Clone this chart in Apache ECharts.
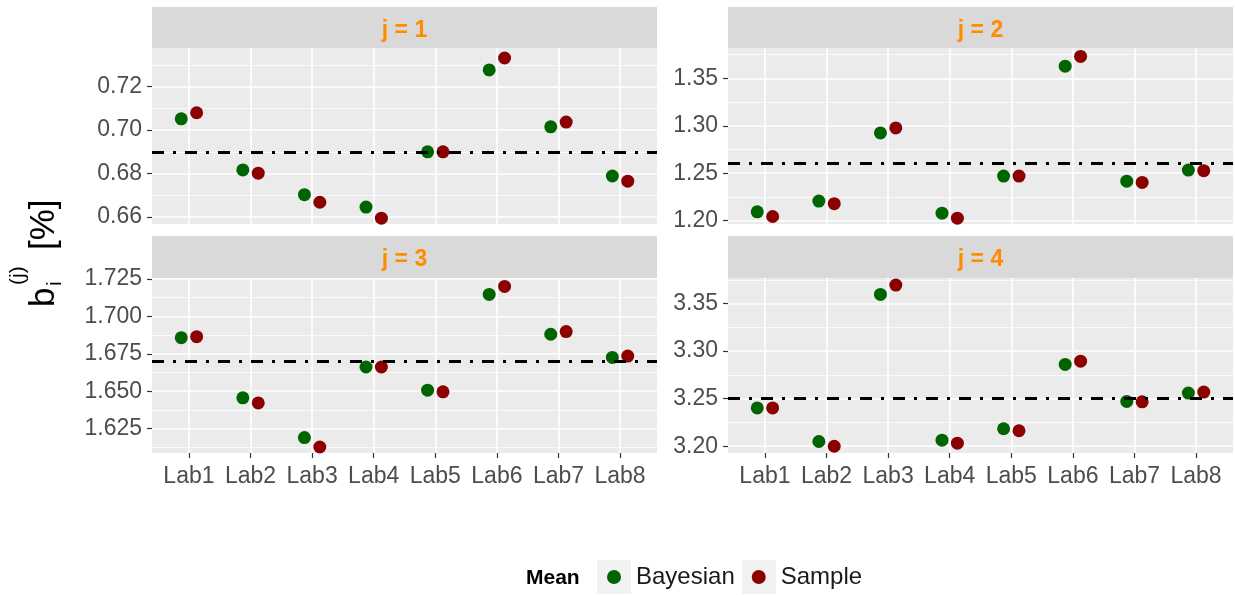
<!DOCTYPE html>
<html>
<head>
<meta charset="utf-8">
<script src="https://cdn.jsdelivr.net/npm/echarts@6/dist/echarts.min.js"></script>
<style>
  html, body { margin: 0; padding: 0; background: #ffffff; }
  #chart { width: 1235px; height: 595px; }
</style>
</head>
<body>
<div id="chart"></div>
<script>
// Laboratories on the shared x axis
const labs = ['Lab1', 'Lab2', 'Lab3', 'Lab4', 'Lab5', 'Lab6', 'Lab7', 'Lab8'];
const facetTitles = ['j = 1', 'j = 2', 'j = 3', 'j = 4'];
const seriesNames = ['Bayesian', 'Sample'];

// Per-lab means b_i^(j) [%], one pair of arrays per level j
const bayesJ1  = [0.7052, 0.6817, 0.6703, 0.6646, 0.6900, 0.7277, 0.7015, 0.6789];
const sampleJ1 = [0.7080, 0.6802, 0.6668, 0.6595, 0.6900, 0.7332, 0.7037, 0.6765];
const bayesJ2  = [1.2092, 1.2206, 1.2924, 1.2078, 1.2469, 1.3628, 1.2416, 1.2533];
const sampleJ2 = [1.2043, 1.2178, 1.2977, 1.2025, 1.2469, 1.3731, 1.2402, 1.2526];
const bayesJ3  = [1.6858, 1.6456, 1.6190, 1.6662, 1.6507, 1.7147, 1.6881, 1.6726];
const sampleJ3 = [1.6865, 1.6422, 1.6127, 1.6662, 1.6496, 1.7201, 1.6899, 1.6735];
const bayesJ4  = [3.2403, 3.2050, 3.3596, 3.2064, 3.2184, 3.2860, 3.2471, 3.2559];
const sampleJ4 = [3.2403, 3.2000, 3.3695, 3.2032, 3.2163, 3.2895, 3.2467, 3.2570];

// Overall reference level per panel (dash-dot line)
const overallMeans = [0.6905, 1.2558, 1.6691, 3.2534];

// Free y scales: limits, labelled breaks and minor breaks per panel
const yLimits = [[0.6568, 0.7378], [1.1964, 1.3820], [1.6087, 1.7257], [3.1929, 3.3769]];
const yBreaks = [
  [0.66, 0.68, 0.70, 0.72],
  [1.20, 1.25, 1.30, 1.35],
  [1.625, 1.650, 1.675, 1.700, 1.725],
  [3.20, 3.25, 3.30, 3.35]
];
const yMinorBreaks = [
  [0.67, 0.69, 0.71, 0.73],
  [1.225, 1.275, 1.325, 1.375],
  [1.6125, 1.6375, 1.6625, 1.6875, 1.7125],
  [3.225, 3.275, 3.325, 3.375]
];
const yDecimals = [2, 2, 3, 2];

const bayesData = [bayesJ1, bayesJ2, bayesJ3, bayesJ4];
const sampleData = [sampleJ1, sampleJ2, sampleJ3, sampleJ4];

// ---- styling / layout ----
const FONT = 'Liberation Sans, Arial, sans-serif';
const GREEN = '#006400';
const RED = '#8B0000';
const PANEL_BG = '#EBEBEB';
const STRIP_BG = '#D9D9D9';
const STRIP_TEXT = '#FF8C00';
const TICK_TEXT = '#4D4D4D';
const TICK_LINE = '#333333';
const DODGE = 0.125;           // half of the dodge width, in category units
const X_PAD = 0.6;             // discrete-scale expansion

const panelLeft = [152, 728, 152, 728];
const panelTop = [48, 48, 278, 278];
const panelHeight = [176, 176, 175, 175];
const panelWidth = 505;
const stripTop = [7, 7, 236, 236];
const stripHeight = [41, 41, 42, 42];

const labIdx = labs.map((_, i) => i + 1);

const grids = [], xAxes = [], yAxes = [], series = [], graphics = [];

for (let p = 0; p < 4; p++) {
  const isBottom = p >= 2;
  grids.push({
    left: panelLeft[p], top: panelTop[p], width: panelWidth, height: panelHeight[p],
    show: true, backgroundColor: PANEL_BG, borderWidth: 0
  });

  xAxes.push({
    type: 'value', gridIndex: p,
    min: 1 - X_PAD, max: labs.length + X_PAD,
    axisLine: { show: false },
    axisTick: { show: isBottom, customValues: labIdx, length: 5, lineStyle: { color: TICK_LINE, width: 1.2 } },
    axisLabel: {
      show: isBottom, customValues: labIdx, margin: 12,
      color: TICK_TEXT, fontSize: 23, fontFamily: FONT,
      formatter: v => labs[Math.round(v) - 1] || ''
    },
    splitLine: { show: true, lineStyle: { color: '#FFFFFF', width: 1.6 } }
  });

  // main y axis: labelled breaks + major grid
  yAxes.push({
    type: 'value', gridIndex: p,
    min: yLimits[p][0], max: yLimits[p][1],
    axisLine: { show: false },
    axisTick: { show: true, customValues: yBreaks[p], length: 5, lineStyle: { color: TICK_LINE, width: 1.2 } },
    axisLabel: {
      customValues: yBreaks[p], margin: 10,
      color: TICK_TEXT, fontSize: 23, fontFamily: FONT,
      formatter: v => v.toFixed(yDecimals[p])
    },
    splitLine: { show: true, lineStyle: { color: '#FFFFFF', width: 1.6 } }
  });
  // companion y axis carrying the minor grid only
  yAxes.push({
    type: 'value', gridIndex: p, position: 'left',
    min: yLimits[p][0], max: yLimits[p][1],
    axisLine: { show: false },
    axisTick: { show: false, customValues: yMinorBreaks[p] },
    axisLabel: { show: false, customValues: yMinorBreaks[p] },
    splitLine: { show: true, lineStyle: { color: '#FFFFFF', width: 0.8 } }
  });

  const yIndex = p * 2;

  // dash-dot reference line
  series.push({
    type: 'line', xAxisIndex: p, yAxisIndex: yIndex, data: [], z: 1,
    silent: true,
    markLine: {
      silent: true, symbol: 'none',
      label: { show: false },
      lineStyle: { color: '#000000', width: 3, type: [12, 9, 3, 9], opacity: 1 },
      data: [{ yAxis: overallMeans[p] }]
    }
  });

  series.push({
    name: seriesNames[0], type: 'scatter', xAxisIndex: p, yAxisIndex: yIndex, z: 3,
    symbol: 'circle', symbolSize: 13,
    itemStyle: { color: GREEN, opacity: 1 },
    data: bayesData[p].map((v, i) => [i + 1 - DODGE, v])
  });
  series.push({
    name: seriesNames[1], type: 'scatter', xAxisIndex: p, yAxisIndex: yIndex, z: 3,
    symbol: 'circle', symbolSize: 13,
    itemStyle: { color: RED, opacity: 1 },
    data: sampleData[p].map((v, i) => [i + 1 + DODGE, v])
  });

  // facet strip
  graphics.push({
    type: 'rect', silent: true,
    shape: { x: panelLeft[p], y: stripTop[p], width: panelWidth, height: stripHeight[p] },
    style: { fill: STRIP_BG }
  });
  graphics.push({
    type: 'text', silent: true,
    x: panelLeft[p] + panelWidth / 2, y: stripTop[p] + stripHeight[p] / 2 + 3,
    style: {
      text: facetTitles[p], fill: STRIP_TEXT, font: 'bold 23px ' + FONT,
      align: 'center', verticalAlign: 'middle'
    }
  });
}

// legend key backgrounds and title
graphics.push({ type: 'rect', silent: true, shape: { x: 597, y: 560, width: 34, height: 34 }, style: { fill: '#F2F2F2' } });
graphics.push({ type: 'rect', silent: true, shape: { x: 742, y: 560, width: 34, height: 34 }, style: { fill: '#F2F2F2' } });
graphics.push({
  type: 'text', silent: true, x: 526, y: 578,
  style: { text: 'Mean', fill: '#000000', font: 'bold 21px ' + FONT, align: 'left', verticalAlign: 'middle' }
});

// y axis title  b_i^(j) [%], read bottom-to-top
graphics.push({
  type: 'group', x: 56, y: 307, rotation: Math.PI / 2, silent: true,
  children: [
    { type: 'text', x: 0, y: -12, style: { text: 'b', fill: '#000', font: '35px ' + FONT, align: 'left', verticalAlign: 'middle' } },
    { type: 'text', x: 22, y: -38, style: { text: '(j)', fill: '#000', font: '21px ' + FONT, align: 'left', verticalAlign: 'middle' } },
    { type: 'text', x: 21, y: -1, style: { text: 'i', fill: '#000', font: '21px ' + FONT, align: 'left', verticalAlign: 'middle' } },
    { type: 'text', x: 57, y: -12, style: { text: '[%]', fill: '#000', font: '35px ' + FONT, align: 'left', verticalAlign: 'middle' } }
  ]
});

const chart = echarts.init(document.getElementById('chart'), null, { renderer: 'canvas' });
chart.setOption({
  animation: false,
  backgroundColor: '#FFFFFF',
  grid: grids,
  xAxis: xAxes,
  yAxis: yAxes,
  legend: {
    data: seriesNames,
    left: 607, top: 565,
    padding: 0,
    orient: 'horizontal',
    icon: 'circle',
    itemWidth: 14, itemHeight: 14, itemGap: 17,
    selectedMode: false,
    textStyle: { fontSize: 24, color: '#1A1A1A', fontFamily: FONT, padding: [0, 0, 0, 10] }
  },
  graphic: graphics,
  series: series
});
</script>
</body>
</html>
